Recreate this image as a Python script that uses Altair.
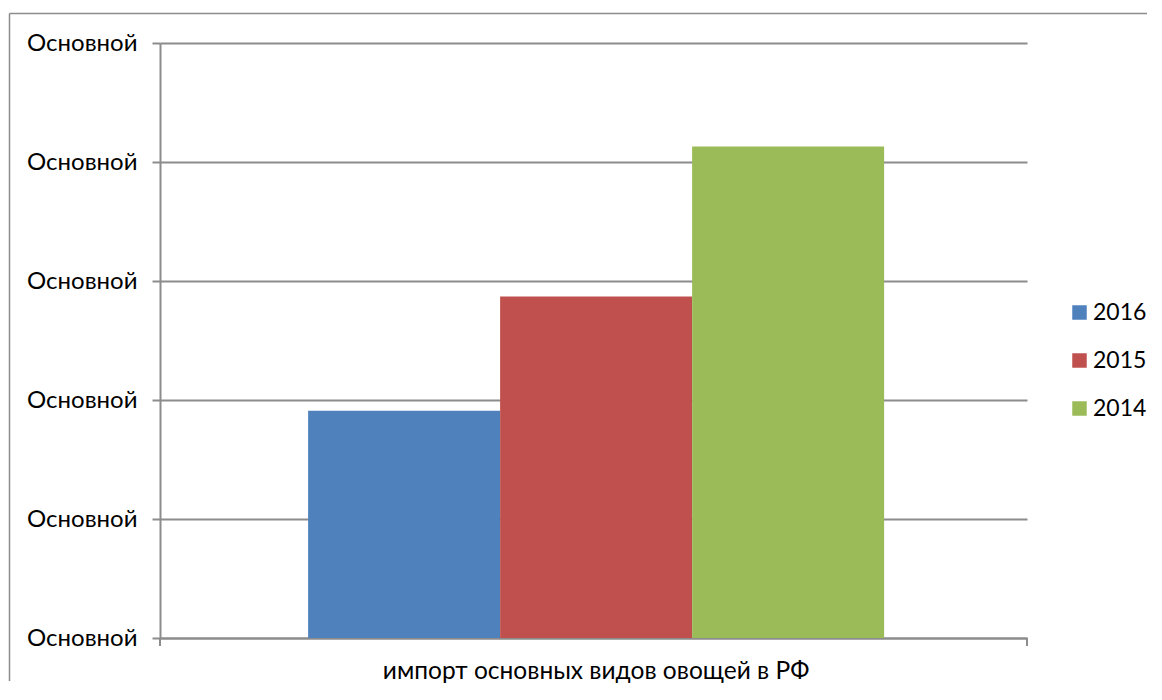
import altair as alt
import pandas as pd

category = "импорт основных видов овощей в РФ"
years = ["2016", "2015", "2014"]
values = [1.91, 2.87, 4.13]
colors = ["#4F81BD", "#C0504D", "#9BBB59"]
y_ticks = [0, 1, 2, 3, 4, 5]
y_label = "Основной"

df = pd.DataFrame({"category": [category] * 3, "year": years, "value": values})

FONT = "Lato"
GRAY = "#8C8C8C"
W, H = 867, 595
PAD = {"left": 152, "top": 35, "right": 124, "bottom": 47}

bars = alt.Chart(df).mark_bar().encode(
    x=alt.X(
        "category:N",
        title=None,
        scale=alt.Scale(paddingOuter=0.2526, paddingInner=0, align=0.509),
        axis=alt.Axis(
            labelAngle=0, ticks=False, domainColor=GRAY, domainWidth=2,
            labelFont=FONT, labelFontSize=24.5, labelColor="#000000",
            labelPadding=21, labelLimit=0, grid=False,
        ),
    ),
    xOffset=alt.XOffset("year:N", sort=years,
                        scale=alt.Scale(paddingInner=0, paddingOuter=0)),
    y=alt.Y(
        "value:Q",
        title=None,
        scale=alt.Scale(domain=[0, 5], nice=False),
        axis=alt.Axis(
            values=y_ticks, labelExpr=f"'{y_label}'", grid=True,
            gridColor=GRAY, gridWidth=2, domainColor=GRAY, domainWidth=2,
            tickColor=GRAY, tickWidth=2, tickSize=8, labelPadding=15,
            labelFont=FONT, labelFontSize=24, labelColor="#000000",
        ),
    ),
    color=alt.Color(
        "year:N", sort=years,
        scale=alt.Scale(domain=years, range=colors),
        legend=alt.Legend(
            title=None, orient="none", legendX=908, legendY=258,
            symbolType="square", symbolSize=210, symbolStrokeWidth=0,
            labelFont=FONT, labelFontSize=23, labelColor="#000000",
            rowPadding=24, labelOffset=2, padding=0,
        ),
    ),
)

one = alt.Data(values=[{"k": 0}])

# chart-area frame: top and left edges, kept inside the canvas
frame_top = alt.Chart(one).mark_rule(color=GRAY, strokeWidth=1.5).encode(
    x=alt.value(-150.5), x2=alt.value(W + PAD["right"] - 4),
    y=alt.value(-29.5), y2=alt.value(-29.5),
)
frame_left = alt.Chart(one).mark_rule(color=GRAY, strokeWidth=1.5).encode(
    x=alt.value(-150.5), x2=alt.value(-150.5),
    y=alt.value(-29.5), y2=alt.value(H + PAD["bottom"] - 4),
)

# Excel-style boundary ticks below the category axis
xticks = alt.Chart(one).mark_rule(color=GRAY, strokeWidth=2).encode(
    x=alt.value(0), y=alt.value(H), y2=alt.value(H + 8)
)
xticks_r = alt.Chart(one).mark_rule(color=GRAY, strokeWidth=2).encode(
    x=alt.value(W), y=alt.value(H), y2=alt.value(H + 8)
)

chart = alt.layer(frame_top, frame_left, bars, xticks, xticks_r).properties(
    width=W, height=H,
    autosize=alt.AutoSizeParams(type="none"),
    padding=PAD,
).configure_view(stroke=None)

chart.save("out.html", embed_options={"renderer": "svg", "actions": False})
